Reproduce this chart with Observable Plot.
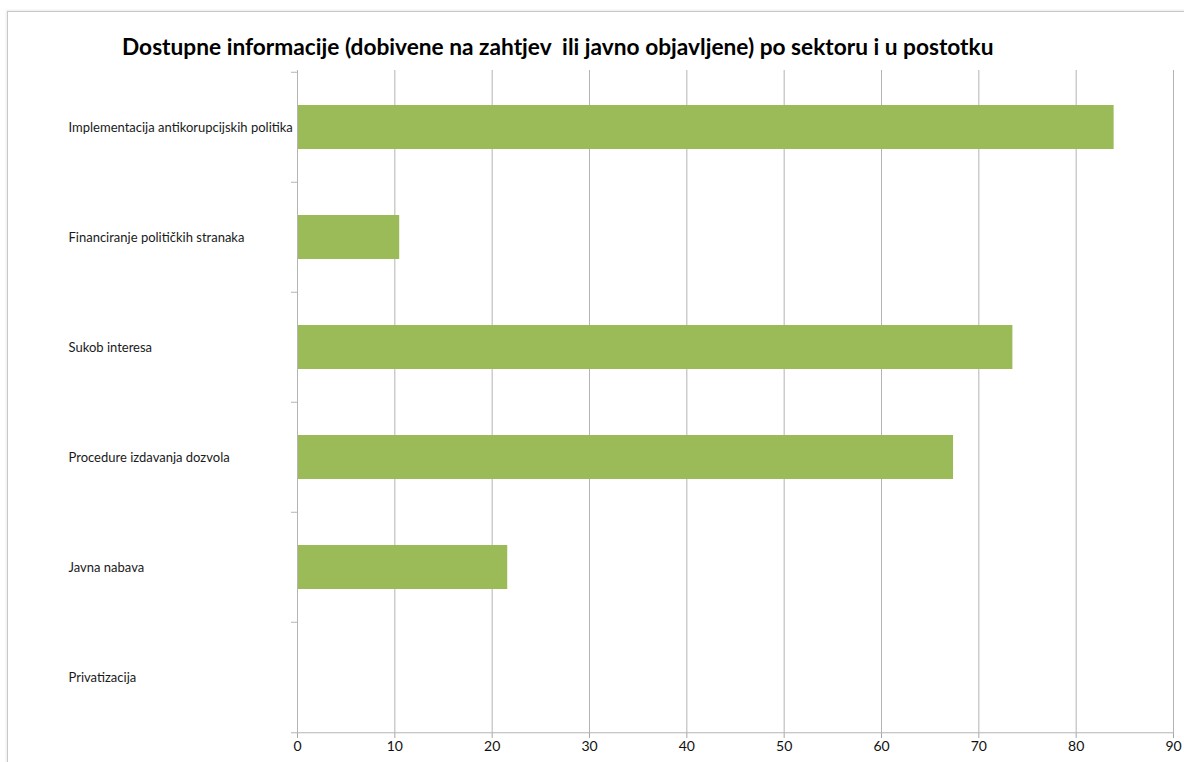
<!DOCTYPE html>
<html>
<head>
<meta charset="utf-8">
<script src="https://cdn.jsdelivr.net/npm/d3@7"></script>
<script src="https://cdn.jsdelivr.net/npm/@observablehq/plot@0.6"></script>
<style>
  html, body { margin: 0; padding: 0; background: #fff; }
  #wrap { position: relative; width: 1184px; height: 762px; overflow: hidden; font-family: Lato, "Open Sans", sans-serif; }
  #frame { position: absolute; left: 7px; top: 11px; width: 1300px; height: 900px; border-top: 1px solid #c8c8c8; border-left: 1px solid #c8c8c8; box-shadow: -1px -1px 2px rgba(0,0,0,0.08); }
  #title { position: absolute; left: 122px; top: 32px; font-weight: bold; font-size: 22.7px; color: #000; white-space: nowrap; line-height: 30px; }
  #chart { position: absolute; left: 0; top: 0; }
  #chart svg { overflow: visible; }
  g[aria-label="x-axis"] .tick line, g[aria-label="x-axis tick"] path { stroke: #a6a6a6; }
</style>
</head>
<body>
<div id="wrap">
  <div id="frame"></div>
  <div id="title">Dostupne informacije (dobivene na zahtjev&nbsp; ili javno objavljene) po sektoru i u postotku</div>
  <div id="chart"></div>
</div>
<script>
const sectors = [
  "Implementacija antikorupcijskih politika",
  "Financiranje političkih stranaka",
  "Sukob interesa",
  "Procedure izdavanja dozvola",
  "Javna nabava",
  "Privatizacija"
];
const percentages = [83.9, 10.5, 73.5, 67.4, 21.6, 0];
const xTicks = [0, 10, 20, 30, 40, 50, 60, 70, 80, 90];

const data = sectors.map((s, i) => ({sector: s, value: percentages[i]}));

const W = 1184, H = 762, mt = 70, mb = 29, ml = 297, mr = 11;
const half = (H - mt - mb) / sectors.length / 2;
const grid = "#b4b4b4";

const chart = Plot.plot({
  width: W,
  height: H,
  marginTop: mt,
  marginBottom: mb,
  marginLeft: ml,
  marginRight: mr,
  style: {fontFamily: "Lato, 'Open Sans', sans-serif", fontSize: "14px", color: "#111", background: "transparent"},
  x: {domain: [0, 90], ticks: xTicks, tickFormat: d => String(d), tickSize: 5, tickPadding: 3, label: null},
  y: {domain: sectors, axis: null, paddingInner: 0.6, paddingOuter: 0.3},
  marks: [
    Plot.ruleX(xTicks.slice(1), {stroke: grid, strokeWidth: 1}),
    Plot.barX(data, {x: "value", y: "sector", fill: "#9bbb59"}),
    Plot.ruleX([0], {stroke: grid, strokeWidth: 1}),
    Plot.ruleY(sectors, {y: d => d, x1: 0, x2: 0, insetLeft: -6, dy: -half, stroke: grid}),
    Plot.ruleY(sectors.slice(-1), {y: d => d, x1: 0, x2: 90, insetLeft: -6, dy: half, stroke: grid}),
    Plot.text(sectors, {y: d => d, frameAnchor: "left", dx: -229, textAnchor: "start", fontSize: 13, fill: "#1a1a1a"})
  ]
});
document.getElementById("chart").appendChild(chart);
</script>
</body>
</html>
